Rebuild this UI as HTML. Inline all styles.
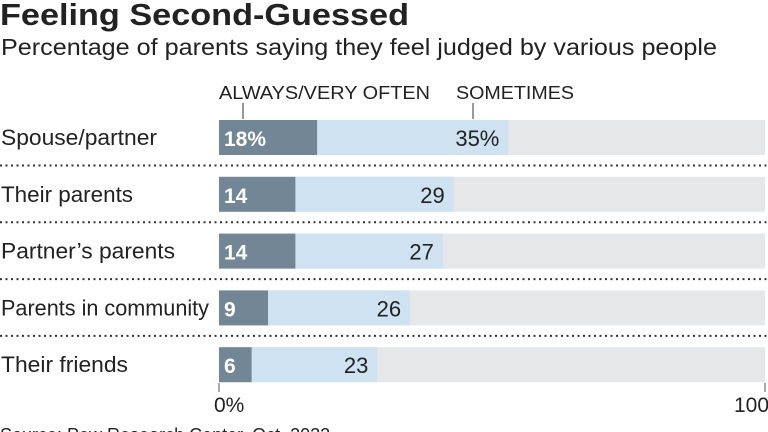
<!DOCTYPE html>
<html><head><meta charset="utf-8"><style>
html,body{margin:0;padding:0;background:#fff;width:768px;height:432px;overflow:hidden;font-family:"Liberation Sans",Arial,sans-serif;}
svg text{font-family:"Liberation Sans",Arial,sans-serif;}
</style></head><body>
<svg width="768" height="432" xmlns="http://www.w3.org/2000/svg">
<text x="0" y="25" font-size="31" font-weight="bold" fill="#222" textLength="409" lengthAdjust="spacingAndGlyphs">Feeling Second-Guessed</text>
<text x="1" y="55" font-size="23" fill="#222" textLength="716" lengthAdjust="spacingAndGlyphs">Percentage of parents saying they feel judged by various people</text>
<text x="219" y="99" font-size="18" fill="#222" textLength="211" lengthAdjust="spacingAndGlyphs">ALWAYS/VERY OFTEN</text>
<line x1="243" y1="103" x2="243" y2="119" stroke="#333" stroke-width="1"/>
<text x="456" y="99" font-size="18" fill="#222" textLength="118" lengthAdjust="spacingAndGlyphs">SOMETIMES</text>
<line x1="473" y1="103" x2="473" y2="119" stroke="#333" stroke-width="1"/>
<g id="bars"></g>
<line x1="219" y1="383" x2="219" y2="392" stroke="#555"/>
<line x1="765" y1="383" x2="765" y2="392" stroke="#555"/>
<text x="214" y="412" font-size="21" fill="#222">0%</text>
<text x="734" y="412" font-size="21" fill="#222">100</text>
<text x="0" y="441" font-size="18" fill="#222">Source: Pew Research Center, Oct. 2022</text>
</svg>
<script>
const categories = ["Spouse/partner","Their parents","Partner\u2019s parents","Parents in community","Their friends"];
const alwaysValues = [18,14,14,9,6];
const sometimesValues = [35,29,27,26,23];
const labelWidths = [156,132,174,208,127];
const x0 = 219, x1 = 765;
function xs(v){ return x0 + (x1 - x0) * v / 100; }
const g = document.getElementById('bars');
const NS = 'http://www.w3.org/2000/svg';
function mk(tag, attrs){ const e=document.createElementNS(NS,tag); for(const k in attrs) e.setAttribute(k,attrs[k]); return e; }
categories.forEach((c,i)=>{
  const top = 120 + i*56.8, h = 35;
  const t = mk('text',{x:1,y:top+25,'font-size':22,fill:'#222',textLength:labelWidths[i],lengthAdjust:'spacingAndGlyphs'});
  t.textContent = c;
  
  
  g.appendChild(t);
  const bg = mk('rect',{x:x0,y:top,width:xs(100)-x0,height:h,fill:'#e6e7e9'});
  
  
  g.appendChild(bg);
  const a = alwaysValues[i], s = sometimesValues[i];
  const r1 = mk('rect',{x:x0,y:top,width:xs(a)-x0,height:h,fill:'#728696'});
  
  
  g.appendChild(r1);
  const r2 = mk('rect',{x:xs(a),y:top,width:xs(a+s)-xs(a),height:h,fill:'#cee2f1'});
  
  
  g.appendChild(r2);
  const l1 = mk('text',{x:x0+5,y:top+26,'font-size':21,'font-weight':'bold',fill:'#fff'});
  l1.textContent = i===0 ? a+'%' : a;
  
  
  g.appendChild(l1);
  const l2 = mk('text',{x:xs(a+s)-9,y:top+26,'font-size':22,fill:'#222','text-anchor':'end'});
  l2.textContent = i===0 ? s+'%' : s;
  
  
  g.appendChild(l2);
  if(i < categories.length-1){
    const d = mk('line',{x1:0,x2:768,y1:top+h+10.5,y2:top+h+10.5,stroke:'#333','stroke-width':2,'stroke-dasharray':'2,3.5'});
    
    
    g.appendChild(d);
  }
});
</script>
</body></html>
